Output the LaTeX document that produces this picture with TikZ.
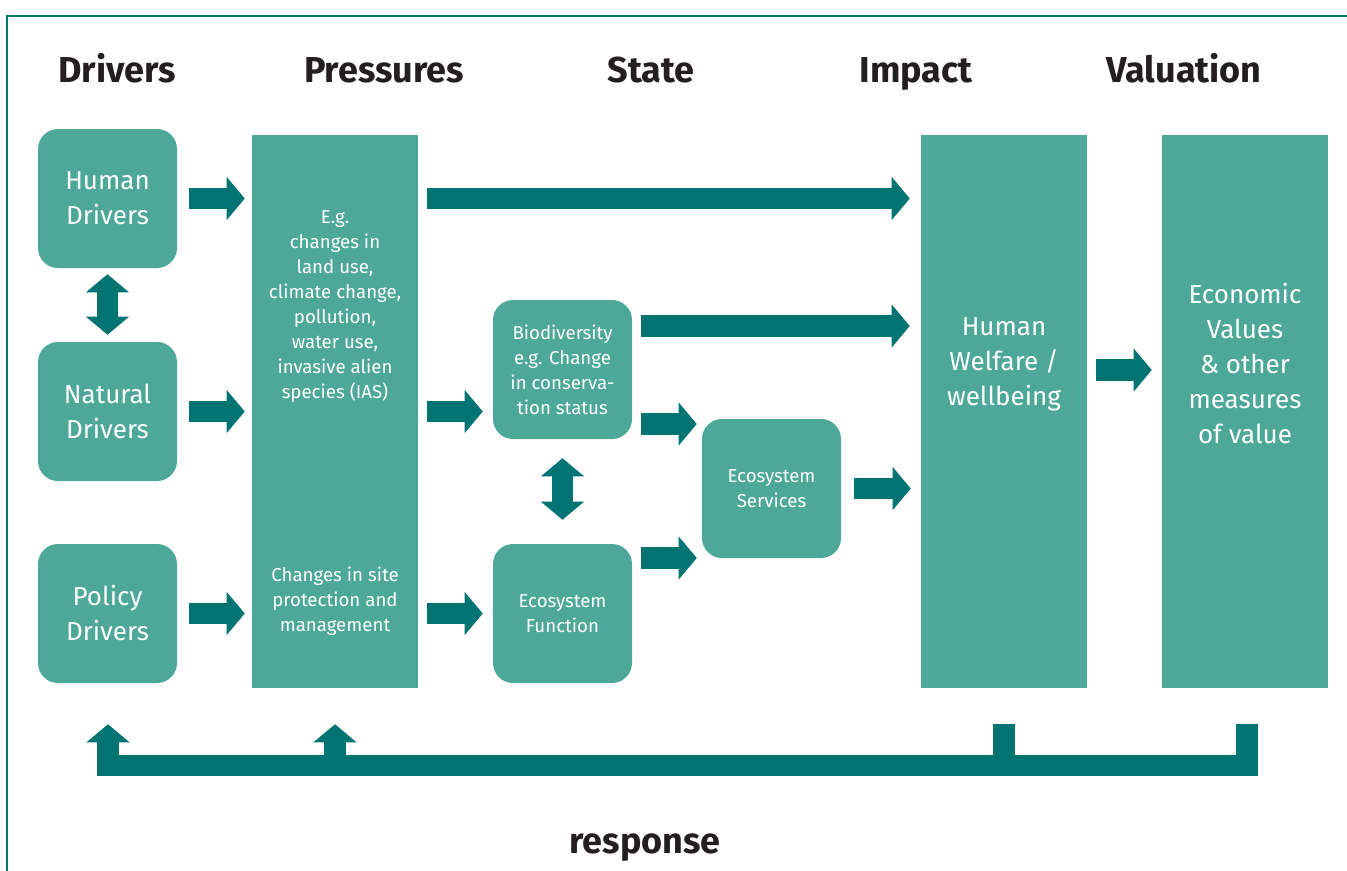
\documentclass[tikz,border=0pt]{standalone}
\usepackage{fontspec}
\setmainfont{Fira Sans}
\usetikzlibrary{arrows.meta,calc}
\definecolor{boxgreen}{HTML}{4DA89A}
\definecolor{darkteal}{HTML}{007473}
\definecolor{headgray}{HTML}{231F20}

\tikzset{
  roundbox/.style={fill=boxgreen, rounded corners=15pt, minimum width=104.25pt, minimum height=104.25pt, inner sep=0pt, text=white, align=center, font=\fontsize{19.5}{26.25}\selectfont},
  smallbox/.style={roundbox, font=\fontsize{14}{18.75}\selectfont},
  tallbox/.style={fill=boxgreen, minimum width=124.5pt, minimum height=414.75pt, inner sep=0pt},
  bigtext/.style={text=white, align=center, inner sep=0pt, font=\fontsize{19.5}{26.25}\selectfont},
  smalltext/.style={text=white, align=center, inner sep=0pt, font=\fontsize{14}{18.75}\selectfont},
  heading/.style={text=headgray, inner sep=0pt, anchor=base, font=\fontsize{27}{32}\selectfont\bfseries},
  fatline/.style={draw=darkteal, line width=16pt, line cap=butt},
  fatarrow/.style={fatline, ->},
  twoway/.style={fatline, <->},
}

\begin{document}
\begin{tikzpicture}[x=0.75pt,y=0.75pt,yscale=-1,xscale=1, >={Triangle[width=32.25pt,length=13.5pt,line width=0pt]}]
\useasboundingbox (0,0) rectangle (1347,871);

%Frame
\draw [darkteal, line width=1.5pt] (7,871) -- (7,16) -- (1347,16) ;

% Text Node
\node [heading] (tdrv) at (117,82) {Drivers};
% Text Node
\node [heading] (tpress) at (384,82) {Pressures};
% Text Node
\node [heading] (tstate) at (651,82) {State};
% Text Node
\node [heading] (timp) at (916,82) {Impact};
% Text Node
\node [heading] (tval) at (1184,82) {Valuation};

%Rounded Rect
\node [roundbox] (hd) at (107.5,198.5) {Human\\Drivers};
%Rounded Rect
\node [roundbox] (nd) at (107.5,411.5) {Natural\\Drivers};
%Rounded Rect
\node [roundbox] (pd) at (107.5,613.5) {Policy\\Drivers};

%Shape: Rectangle
\node [tallbox] (press) at (335,411.5) {};
% Text Node
\node [smalltext] (presstop) at (335,307) {E.g.\\changes in\\land use,\\climate change,\\pollution,\\water use,\\invasive alien\\species (IAS)};
% Text Node
\node [smalltext] (pressbot) at (335,601) {Changes in site\\protection and\\management};

%Rounded Rect
\node [smallbox] (bio) at (562.5,369.5) {Biodiversity\\e.g. Change\\in conserva-\\tion status};
%Rounded Rect
\node [smallbox] (ef) at (562.5,613.5) {Ecosystem\\Function};
%Rounded Rect
\node [smallbox] (es) at (771.5,488.5) {Ecosystem\\Services};

%Shape: Rectangle
\node [tallbox] (imp) at (1004,411.5) {};
% Text Node
\node [bigtext] (imptxt) at (1004,364) {Human\\Welfare /\\wellbeing};
%Shape: Rectangle
\node [tallbox] (val) at (1245,411.5) {};
% Text Node
\node [bigtext] (valtxt) at (1245,364) {Economic\\Values\\\& other\\measures\\of value};

%Block Arrows
\draw [twoway] ($(hd.south)+(0,6)$) -- ($(nd.north)+(0,-7)$) ;
\draw [fatarrow] ($(hd.east)+(12,0)$) -- ($(press.west |- hd.east)+(-7,0)$) ;
\draw [fatarrow] ($(nd.east)+(12,0)$) -- ($(press.west |- nd.east)+(-7,0)$) ;
\draw [fatarrow] ($(pd.east)+(12,0)$) -- ($(press.west |- pd.east)+(-7,0)$) ;
\draw [fatarrow] ($(press.east |- hd.east)+(9,0)$) -- ($(imp.west |- hd.east)+(-11,0)$) ;
\draw [fatarrow] ($(press.east |- nd.east)+(9,0)$) -- ($(bio.west |- nd.east)+(-10,0)$) ;
\draw [fatarrow] ($(press.east |- ef.west)+(9,0)$) -- ($(ef.west)+(-10,0)$) ;
\draw [fatarrow] ($(bio.east)+(9,-43.5)$) -- ($(imp.west |- bio.east)+(-11,-43.5)$) ;
\draw [fatarrow] ($(bio.east)+(9,54.5)$) -- ($(es.west |- bio.east)+(-5,54.5)$) ;
\draw [fatarrow] ($(ef.east)+(9,-55.5)$) -- ($(es.west |- ef.east)+(-5,-55.5)$) ;
\draw [twoway] ($(bio.south)+(0,19)$) -- ($(ef.north)+(0,-24)$) ;
\draw [fatarrow] ($(es.east)+(13,0)$) -- ($(imp.west |- es.east)+(-10,0)$) ;
\draw [fatarrow] ($(imp.east)+(9,-41.5)$) -- ($(val.west)+(-10,-41.5)$) ;

%Response loop
\draw [fatline] ($(imp.south)+(0,36)$) -- ($(imp.south)+(0,82)$) ;
\draw [fatarrow] ($(press.south)+(0,82)$) -- ($(press.south)+(0,36)$) ;
\draw [fatarrow] ($(val.south)+(2,36)$) |- ($(pd.south)+(0.5,82)$) -- ($(pd.south)+(0.5,41)$) ;

% Text Node
\node [heading] (tresp) at (645,853) {response};

\end{tikzpicture}
\end{document}
